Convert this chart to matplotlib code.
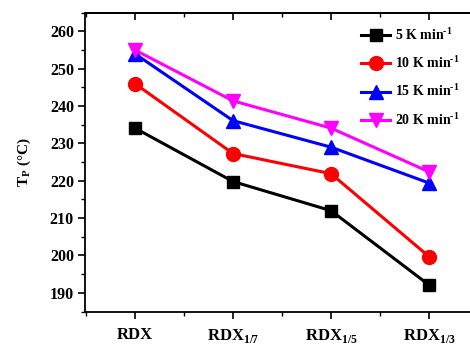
import numpy as np
import matplotlib
matplotlib.use("Agg")
import matplotlib.pyplot as plt
from matplotlib.ticker import MultipleLocator

plt.rcParams['font.family'] = ['Liberation Serif', 'DejaVu Serif']
plt.rcParams['font.weight'] = 'bold'
plt.rcParams['mathtext.fontset'] = 'custom'
plt.rcParams['mathtext.rm'] = 'Liberation Serif'
plt.rcParams['mathtext.bf'] = 'Liberation Serif:bold'

# data
samples = ["RDX", r"RDX$_{\mathrm{1/7}}$", r"RDX$_{\mathrm{1/5}}$", r"RDX$_{\mathrm{1/3}}$"]
rate_5 = [234.1, 219.8, 212.0, 192.1]
rate_10 = [246.0, 227.3, 221.9, 199.7]
rate_15 = [254.0, 236.1, 229.0, 219.4]
rate_20 = [255.0, 241.4, 234.1, 222.4]

fig = plt.figure(figsize=(4.7, 3.47), dpi=100)
ax = fig.add_axes([85/470, 1 - 311.5/347, (479 - 85)/470, (311.5 - 12.7)/347])

x = np.arange(len(samples))
ax.plot(x, rate_5, color='black', marker='s', ms=9, lw=2.2, label=r'5 K min$^{\mathbf{\text{-}1}}$')
ax.plot(x, rate_10, color='red', marker='o', ms=10, lw=2.2, label=r'10 K min$^{\mathbf{\text{-}1}}$')
ax.plot(x, rate_15, color='blue', marker='^', ms=10.5, lw=2.2, label=r'15 K min$^{\mathbf{\text{-}1}}$')
ax.plot(x, rate_20, color='magenta', marker='v', ms=10.5, lw=2.2, label=r'20 K min$^{\mathbf{\text{-}1}}$')

ax.set_xlim(-0.51, 3.51)
ax.set_ylim(185, 265)
ax.set_xticks(x)
ax.set_xticklabels(samples, fontsize=12, fontweight='bold')
ax.xaxis.set_minor_locator(MultipleLocator(0.5))
ax.yaxis.set_major_locator(MultipleLocator(10))
ax.yaxis.set_minor_locator(MultipleLocator(5))
for lab in ax.get_yticklabels():
    lab.set_fontsize(11.5)
    lab.set_fontweight('bold')

ax.tick_params(axis='both', which='major', direction='out', length=5, width=1.2)
ax.tick_params(axis='both', which='minor', direction='out', length=3, width=1.0)
ax.tick_params(axis='x', which='major', pad=6)
ax.tick_params(axis='y', which='major', pad=3)
ax.spines['right'].set_visible(False)
for s in ax.spines.values():
    s.set_linewidth(1.3)

# inward ticks on the top edge
top = ax.secondary_xaxis('top')
top.set_xticks(x)
top.xaxis.set_minor_locator(MultipleLocator(0.5))
top.tick_params(which='major', direction='in', length=5, width=1.2, labeltop=False)
top.tick_params(which='minor', direction='in', length=3, width=1.0)
top.spines['top'].set_linewidth(1.3)

ax.set_ylabel(r'T$_{\mathbf{P}}$ (°C)', fontsize=11, fontweight='bold', labelpad=12)

ax.legend(loc='upper left', bbox_to_anchor=(361/470, 1 - 26/347), bbox_transform=fig.transFigure,
          frameon=False, borderpad=0, borderaxespad=0, handlelength=2.1,
          handletextpad=0.35, labelspacing=0.85, prop={'weight': 'bold', 'size': 10})

fig.savefig("out.png", dpi=100)
